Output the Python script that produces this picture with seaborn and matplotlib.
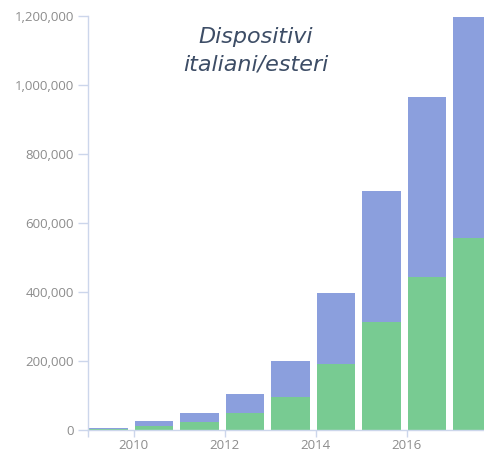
import numpy as np
import pandas as pd
import matplotlib.pyplot as plt
import seaborn as sns
from matplotlib.ticker import FuncFormatter

# dati
anni = [2009, 2010, 2011, 2012, 2013, 2014, 2015, 2016, 2017]
italiani = [1500, 12000, 23000, 49000, 96000, 191000, 313000, 443000, 556000]
esteri = [4500, 14000, 26000, 55000, 104000, 206000, 380000, 522000, 641000]
tick_anni = [2009, 2010, 2012, 2014, 2016]
tick_label = ["", "2010", "2012", "2014", "2016"]
y_ticks = [0, 200000, 400000, 600000, 800000, 1000000, 1200000]

df = pd.DataFrame({"anno": anni, "italiani": italiani, "esteri": esteri})
df["totale"] = df["italiani"] + df["esteri"]
# le barre occupano l'anno intero (inizio anno -> fine anno)
df["pos"] = df["anno"] + 0.45

sns.set_style("white")
plt.rcParams["font.family"] = ["Open Sans", "DejaVu Sans"]

blu = "#8b9fdd"
verde = "#78cb92"
asse = "#ccd6eb"
testo = "#8c8c8c"

fig = plt.figure(figsize=(4.85, 4.54), dpi=100)
ax = fig.add_axes([88 / 485, 24 / 454, 1 - 88 / 485, 414 / 454])

sns.barplot(data=df, x="pos", y="totale", native_scale=True, width=0.84,
            color=blu, saturation=1, linewidth=0, ax=ax)
sns.barplot(data=df, x="pos", y="italiani", native_scale=True, width=0.84,
            color=verde, saturation=1, linewidth=0, ax=ax)

ax.set_xlim(2009, 2009 + 397 / 45.5)
ax.set_ylim(0, 1200000)
ax.set_xticks(tick_anni)
ax.set_xticklabels(tick_label)
ax.set_yticks(y_ticks)
ax.yaxis.set_major_formatter(FuncFormatter(lambda v, p: f"{int(v):,}"))
ax.set_xlabel("")
ax.set_ylabel("")

sns.despine(ax=ax)
for s in ["left", "bottom"]:
    ax.spines[s].set_color(asse)
    ax.spines[s].set_linewidth(1)
ax.tick_params(axis="both", bottom=True, left=True, colors=asse,
               labelcolor=testo, labelsize=9.5, width=1, direction="out")
ax.tick_params(axis="x", length=5, pad=1.5)
ax.tick_params(axis="y", length=7, pad=3)

fig.text(256 / 485, 1 - 51 / 454, "Dispositivi\nitaliani/esteri",
         ha="center", va="center", fontsize=16, style="italic",
         color="#3d4d66", linespacing=1.45, family=["DejaVu Sans"])

fig.savefig("out.png", dpi=100)
